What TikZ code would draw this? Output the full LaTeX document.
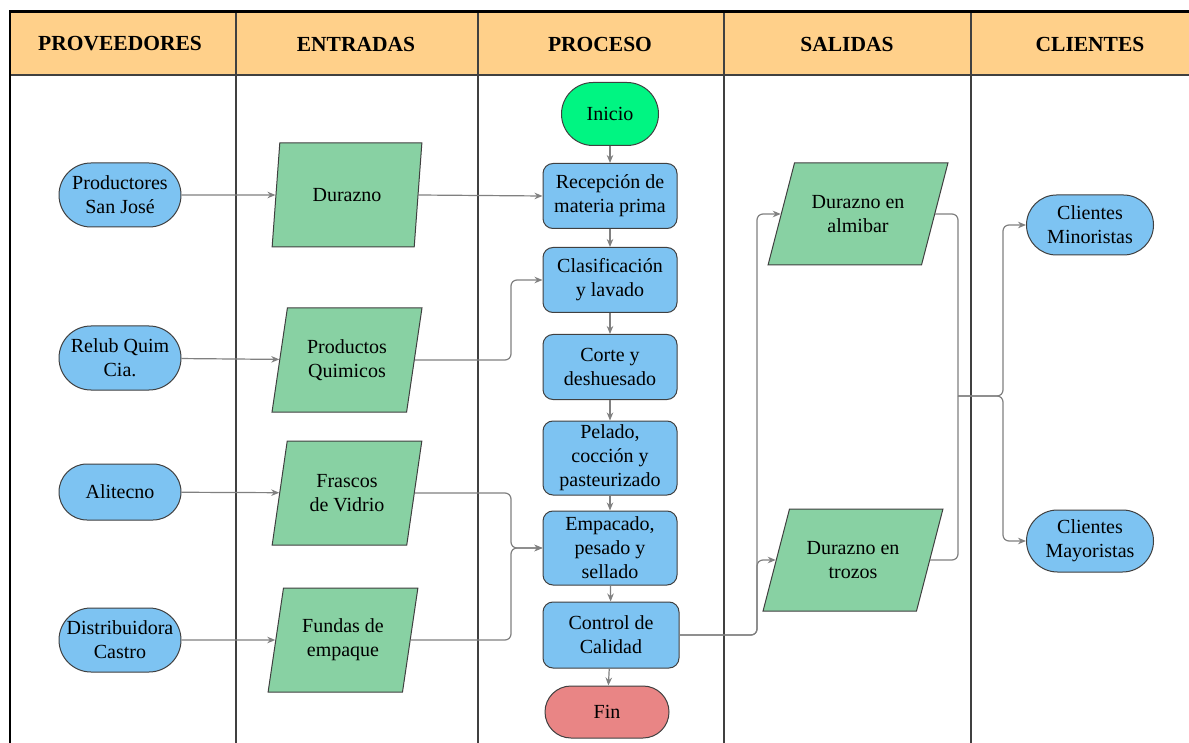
\documentclass[tikz,border=0pt]{standalone}
\usepackage{fontspec}
\setmainfont{LiberationSerif}[Extension=.ttf, UprightFont=*-Regular, BoldFont=*-Bold,
  ItalicFont=*-Italic, BoldItalicFont=*-BoldItalic]
\usetikzlibrary{shapes.geometric,shapes.misc,arrows.meta}

\definecolor{naranja}{RGB}{255,208,138}
\definecolor{azul}{RGB}{125,195,242}
\definecolor{verde}{RGB}{136,209,163}
\definecolor{verdeini}{RGB}{0,245,130}
\definecolor{rojofin}{RGB}{233,133,133}
\definecolor{borde}{RGB}{64,64,64}
\definecolor{gris}{RGB}{128,128,128}

\tikzset{
  txt/.style={font=\fontsize{20}{24}\selectfont, align=center, text=black},
  cabecera/.style={font=\fontsize{21.5}{24}\selectfont\bfseries},
  prov/.style={txt, rounded rectangle, draw=borde, line width=1pt, fill=azul,
    minimum width=126pt, minimum height=64pt, inner sep=2pt},
  entrada/.style={txt, trapezium, trapezium stretches=true, draw=borde, line width=1pt,
    fill=verde, trapezium left angle=76.5, trapezium right angle=103.5,
    minimum width=150pt, minimum height=104pt, inner sep=2pt},
  salida/.style={entrada, trapezium left angle=64, trapezium right angle=116,
    minimum width=180pt, minimum height=102pt},
  proc/.style={txt, rectangle, rounded corners=10pt, draw=borde, line width=1pt,
    fill=azul, minimum width=134pt, minimum height=65pt, inner sep=2pt},
  flecha/.style={draw=gris, line width=1.2pt, rounded corners=6pt,
    -{Stealth[length=8pt,width=6.5pt]}},
  linea/.style={draw=gris, line width=1.2pt, rounded corners=6pt},
  columna/.style={draw=borde, line width=1.6pt}
}

\begin{document}
\begin{tikzpicture}[x=1pt,y=-1pt]
\fill[white] (0,0) rectangle (1189,743);
\useasboundingbox (0,0) rectangle (1189,743);

\fill[naranja] (10,12) rectangle (1189,75);
\draw[columna] (10,75) -- (1189,75);
\draw[columna] (236,12) -- (236,743);
\draw[columna] (478,12) -- (478,743);
\draw[columna] (724,12) -- (724,743);
\draw[columna] (971,12) -- (971,743);
\draw[black, line width=2pt] (10,12) -- (10,743);
\draw[black, line width=3pt] (9,12) -- (1189,12);

\node[cabecera] (h1) at (120,44) {PROVEEDORES};
\node[cabecera] (h2) at (356,44) {ENTRADAS};
\node[cabecera] (h3) at (600,44) {PROCESO};
\node[cabecera] (h4) at (847,44) {SALIDAS};
\node[cabecera] (h5) at (1090,44) {CLIENTES};

\node[prov] (prodsj) at (120,195) {Productores\\San José};
\node[prov] (relub) at (120,358) {Relub Quim\\Cia.};
\node[prov, minimum height=56pt] (alitecno) at (120,492) {Alitecno};
\node[prov] (castro) at (120,640) {Distribuidora\\Castro};

\node[entrada] (durazno) at (347,195) {Durazno};
\node[entrada] (quimicos) at (347,360) {Productos\\Quimicos};
\node[entrada] (frascos) at (347,493) {Frascos\\de Vidrio};
\node[entrada] (fundas) at (343,640) {Fundas de\\empaque};

\node[prov, fill=verdeini, minimum width=101pt, minimum height=63pt] (inicio) at (610,114) {Inicio};
\node[proc] (recepcion) at (610,196) {Recepción de\\materia prima};
\node[proc] (clasif) at (610,280) {Clasificación\\y lavado};
\node[proc] (corte) at (610,367) {Corte y\\deshuesado};
\node[proc, minimum height=74pt] (pelado) at (610,458) {Pelado,\\cocción y\\pasteurizado};
\node[proc, minimum height=74pt] (empacado) at (610,548) {Empacado,\\pesado y\\sellado};
\node[proc, minimum width=136pt, minimum height=66pt] (control) at (611,635) {Control de\\Calidad};
\node[prov, fill=rojofin, minimum width=128pt, minimum height=52pt] (fin) at (607,712) {Fin};

\node[salida] (almibar) at (858,214) {Durazno en\\almibar};
\node[salida] (trozos) at (853,560) {Durazno en\\trozos};

\node[prov, minimum width=131pt, minimum height=60pt] (minor) at (1090,225) {Clientes\\Minoristas};
\node[prov, minimum width=131pt, minimum height=62pt] (mayor) at (1090,541) {Clientes\\Mayoristas};

\coordinate (bus1) at (511,0);
\coordinate (bus2) at (757,0);
\coordinate (junta) at (958,396);
\coordinate (bus3) at (1003,0);

\draw[flecha] (prodsj) -- (durazno);
\draw[flecha] (relub) -- (quimicos);
\draw[flecha] (alitecno) -- (frascos);
\draw[flecha] (castro) -- (fundas);

\draw[flecha] (durazno.east) -- (recepcion.west);
\draw[flecha] (quimicos.east) -| (bus1 |- clasif.west) -- (clasif.west);
\draw[flecha] (frascos.east) -| (bus1 |- empacado.west) -- (empacado.west);
\draw[flecha] (fundas.east) -| (bus1 |- empacado.west) -- (empacado.west);

\draw[flecha] (inicio) -- (recepcion);
\draw[flecha] (recepcion) -- (clasif);
\draw[flecha] (clasif) -- (corte);
\draw[flecha] (corte) -- (pelado);
\draw[flecha] (pelado) -- (empacado);
\draw[flecha] (empacado) -- (control);
\draw[flecha] (control) -- (fin);

\draw[flecha] (control.east) -| (bus2 |- almibar.west) -- (almibar.west);
\draw[flecha] (control.east) -| (bus2 |- trozos.west) -- (trozos.west);

\draw[linea] (almibar.east) -| (junta);
\draw[linea] (trozos.east) -| (junta);
\draw[flecha] (junta) -| (bus3 |- minor.west) -- (minor.west);
\draw[flecha] (junta) -| (bus3 |- mayor.west) -- (mayor.west);
\end{tikzpicture}
\end{document}
